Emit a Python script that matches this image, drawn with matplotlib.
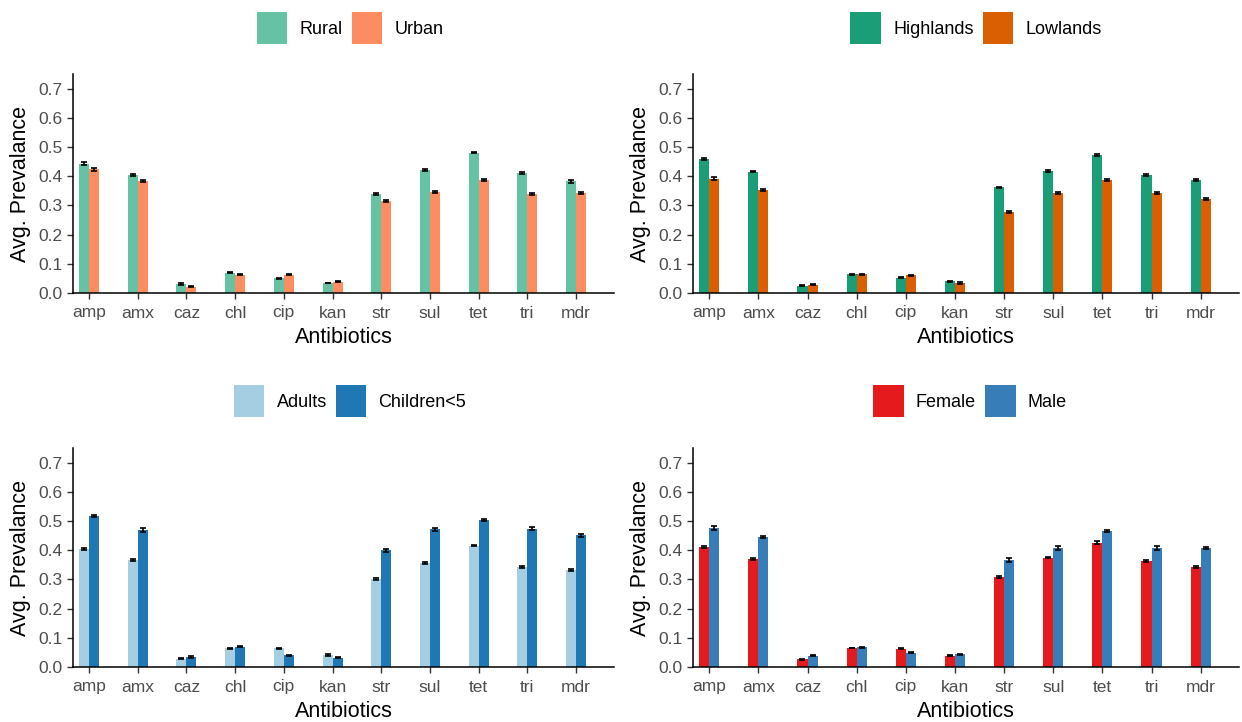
import matplotlib
matplotlib.use("Agg")
import matplotlib.pyplot as plt
import numpy as np

plt.rcParams["font.family"] = ["Liberation Sans", "DejaVu Sans"]

antibiotics = ["amp", "amx", "caz", "chl", "cip", "kan", "str", "sul", "tet", "tri", "mdr"]

# Panel A: residence
rural = [0.443, 0.404, 0.031, 0.069, 0.051, 0.034, 0.338, 0.422, 0.481, 0.412, 0.382]
urban = [0.423, 0.383, 0.022, 0.062, 0.062, 0.039, 0.315, 0.346, 0.387, 0.338, 0.343]
rural_se = [0.004, 0.003, 0.002, 0.002, 0.002, 0.001, 0.004, 0.004, 0.003, 0.004, 0.004]
urban_se = [0.004, 0.004, 0.002, 0.002, 0.002, 0.002, 0.003, 0.002, 0.004, 0.004, 0.004]

# Panel B: altitude
highlands = [0.458, 0.416, 0.025, 0.064, 0.053, 0.040, 0.362, 0.418, 0.473, 0.403, 0.387]
lowlands = [0.392, 0.352, 0.029, 0.064, 0.061, 0.034, 0.278, 0.343, 0.387, 0.343, 0.323]
highlands_se = [0.003, 0.003, 0.001, 0.001, 0.002, 0.002, 0.002, 0.004, 0.004, 0.003, 0.004]
lowlands_se = [0.004, 0.003, 0.002, 0.002, 0.002, 0.002, 0.004, 0.004, 0.004, 0.004, 0.004]

# Panel C: age group
adults = [0.403, 0.366, 0.029, 0.064, 0.064, 0.041, 0.302, 0.357, 0.416, 0.342, 0.332]
children = [0.517, 0.468, 0.034, 0.070, 0.040, 0.032, 0.399, 0.471, 0.503, 0.474, 0.451]
adults_se = [0.004, 0.004, 0.002, 0.001, 0.001, 0.002, 0.004, 0.004, 0.003, 0.004, 0.004]
children_se = [0.004, 0.007, 0.002, 0.002, 0.002, 0.002, 0.006, 0.006, 0.004, 0.006, 0.006]

# Panel D: sex
female = [0.412, 0.370, 0.026, 0.065, 0.062, 0.039, 0.309, 0.374, 0.426, 0.363, 0.343]
male = [0.477, 0.446, 0.038, 0.068, 0.049, 0.043, 0.366, 0.408, 0.467, 0.408, 0.408]
female_se = [0.004, 0.002, 0.002, 0.001, 0.002, 0.001, 0.003, 0.002, 0.004, 0.003, 0.004]
male_se = [0.007, 0.003, 0.002, 0.002, 0.002, 0.002, 0.007, 0.007, 0.003, 0.007, 0.004]

panels = [
    (["Rural", "Urban"], [rural, urban], [rural_se, urban_se], ["#66C2A5", "#FC8D62"]),
    (["Highlands", "Lowlands"], [highlands, lowlands], [highlands_se, lowlands_se], ["#1B9E77", "#D95F02"]),
    (["Adults", "Children<5"], [adults, children], [adults_se, children_se], ["#A6CEE3", "#1F78B4"]),
    (["Female", "Male"], [female, male], [female_se, male_se], ["#E41A1C", "#377EB8"]),
]

W, H = 1242, 722
fig = plt.figure(figsize=(W / 100, H / 100), dpi=100)

# axes boxes in pixels: left, top, right, bottom
boxes = [(73, 74, 614, 293), (693, 74, 1239, 293), (73, 448, 614, 667), (693, 448, 1239, 667)]
legend_pos = [(350, 28), (976, 28), (350, 401), (970, 401)]

x = np.arange(len(antibiotics))
bw = 0.205
for (labels, series, errs, colors), (l, t, r, b), (lx, ly) in zip(panels, boxes, legend_pos):
    ax = fig.add_axes([l / W, 1 - b / H, (r - l) / W, (b - t) / H])
    handles = []
    for i, (vals, se, col) in enumerate(zip(series, errs, colors)):
        pos = x + (i - 0.5) * bw
        h = ax.bar(pos, vals, width=bw, color=col, label=labels[i])
        ax.errorbar(pos, vals, yerr=se, fmt="none", ecolor="black", elinewidth=1.2,
                    capsize=2.5, capthick=1.2)
        handles.append(h)
    ax.set_xlim(-0.33, 10.78)
    ax.set_ylim(0, 0.75)
    ax.set_yticks(np.arange(0, 0.71, 0.1))
    ax.set_yticklabels([f"{v:.1f}" for v in np.arange(0, 0.71, 0.1)])
    ax.set_xticks(x)
    ax.set_xticklabels(antibiotics)
    ax.tick_params(labelsize=12.5, colors="#333333", labelcolor="#4D4D4D", length=4, width=1)
    ax.tick_params(axis="x", pad=5)
    for s in ["top", "right"]:
        ax.spines[s].set_visible(False)
    for s in ["left", "bottom"]:
        ax.spines[s].set_linewidth(1.1)
    ax.set_xlabel("Antibiotics", fontsize=15.5, labelpad=5)
    ax.set_ylabel("Avg. Prevalance", fontsize=15.5, labelpad=5)
    fig.legend(handles=handles, labels=labels, loc="center", bbox_to_anchor=(lx / W, 1 - ly / H),
               ncol=2, frameon=False, fontsize=13, handlelength=1.7, handleheight=2.3,
               columnspacing=0.5, handletextpad=0.67)

fig.savefig("out.png", dpi=100)
